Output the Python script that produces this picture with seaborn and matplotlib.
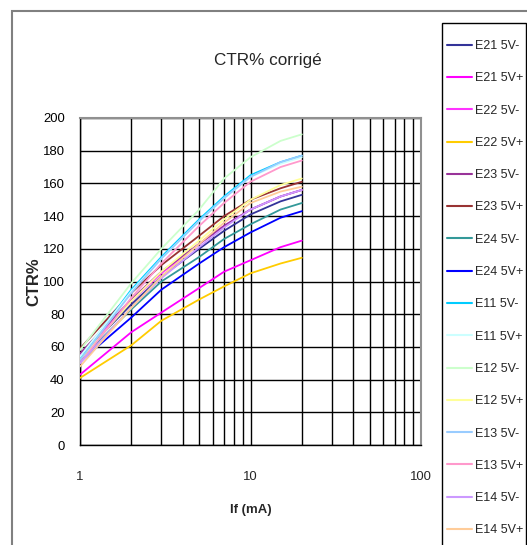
import pandas as pd
import matplotlib
matplotlib.use('Agg')
import matplotlib.pyplot as plt
import seaborn as sns
from matplotlib import font_manager
from matplotlib.lines import Line2D
from matplotlib.patches import Rectangle
from matplotlib.ticker import FixedLocator, NullFormatter

# ---- data ----
if_ma = [1, 2, 3, 5, 7, 10, 15, 20]
series_names = ['E21 5V-', 'E21 5V+', 'E22 5V-', 'E22 5V+', 'E23 5V-', 'E23 5V+',
                'E24 5V-', 'E24 5V+', 'E11 5V-', 'E11 5V+', 'E12 5V-', 'E12 5V+',
                'E13 5V-', 'E13 5V+', 'E14 5V-', 'E14 5V+']
e21_m = [54, 86, 103, 120, 131, 141, 149, 153]
e21_p = [43, 69, 81, 96, 106, 113, 121, 125]
e22_m = [55, 88, 105, 123, 134, 144, 152, 156]
e22_p = [41, 61, 76, 89, 97, 105, 111, 114.5]
e23_m = [56, 89, 106, 123, 134, 144, 152, 156]
e23_p = [59, 93, 110, 128, 140, 150, 157, 161]
e24_m = [52, 83, 100, 115, 126, 135, 144, 148]
e24_p = [51, 78, 95, 111, 121, 130, 139, 143]
e11_m = [53, 95, 115, 138, 152, 165, 173, 177]
e11_p = [54, 94, 114, 137, 151, 164, 172, 176]
e12_m = [58, 99, 120, 144, 163, 176, 186, 190]
e12_p = [52, 88, 106, 125, 138, 150, 159, 163]
e13_m = [52, 93, 114, 137, 151, 164, 173, 177]
e13_p = [50, 90, 111, 134, 148, 161, 170, 174]
e14_m = [50, 84, 102, 121, 133, 144, 152, 156]
e14_p = [48, 84, 103, 123, 136, 148, 155, 158]
ctr_values = [e21_m, e21_p, e22_m, e22_p, e23_m, e23_p, e24_m, e24_p,
              e11_m, e11_p, e12_m, e12_p, e13_m, e13_p, e14_m, e14_p]
series_colors = ['#333399', '#FF00FF', '#FF33FF', '#FFCC00', '#993399', '#993333',
                 '#339999', '#0000FF', '#00CCFF', '#CCFFFF', '#CCFFCC', '#FFFF99',
                 '#99CCFF', '#FF99CC', '#CC99FF', '#FFCC99']
y_ticks = list(range(0, 201, 20))

rows = []
for name, vals in zip(series_names, ctr_values):
    for x, v in zip(if_ma, vals):
        rows.append({'If': x, 'CTR': v, 'serie': name})
df = pd.DataFrame(rows)
palette = dict(zip(series_names, series_colors))

sns.set_style('white')
plt.rcParams['font.family'] = ['Liberation Sans', 'DejaVu Sans']

# Excel squeezed its text; use Liberation Sans Narrow if present, else a smaller Liberation Sans
names = {f.name for f in font_manager.fontManager.ttflist}
if 'Liberation Sans Narrow' in names:
    small_family, scale = 'Liberation Sans Narrow', 1.0
else:
    small_family, scale = 'Liberation Sans', 0.82
tick_size = 11.5 * scale
legend_size = 11 * scale

fig = plt.figure(figsize=(5.27, 5.45), dpi=100)
ax = fig.add_axes([80 / 527, 1 - 445 / 545, 341 / 527, 327 / 545])

sns.lineplot(data=df, x='If', y='CTR', hue='serie', hue_order=series_names,
             palette=palette, linewidth=1.3, legend=False, ax=ax, zorder=3)

ax.set_xscale('log')
ax.set_xlim(1, 100)
ax.set_ylim(0, 200)
ax.set_yticks(y_ticks)
ax.set_xticks([1, 10, 100])
ax.set_xticklabels(['1', '10', '100'])
ax.xaxis.set_minor_locator(FixedLocator([m * d for d in (1, 10) for m in range(2, 10)]))
ax.xaxis.set_minor_formatter(NullFormatter())
ax.grid(True, which='major', color='black', linewidth=1.0)
ax.grid(True, which='minor', axis='x', color='black', linewidth=1.0)
ax.set_axisbelow(True)

for lab in ax.get_xticklabels() + ax.get_yticklabels():
    lab.set_fontfamily(small_family)
    lab.set_fontsize(tick_size)
ax.tick_params(axis='y', direction='inout', length=12, width=1, pad=5, colors='black')
ax.tick_params(axis='x', which='major', direction='inout', length=6, width=1, pad=16)
ax.tick_params(axis='x', which='minor', length=0)

for side in ('left', 'bottom'):
    ax.spines[side].set_color('black')
    ax.spines[side].set_linewidth(1.0)
for side in ('top', 'right'):
    ax.spines[side].set_color('#909090')
    ax.spines[side].set_linewidth(1.5)

ax.set_xlabel('If (mA)', fontfamily=small_family, fontsize=11.5 * scale, fontweight='bold')
ax.xaxis.set_label_coords(0.5, -0.2)
ax.xaxis.label.set_va('center')
ax.set_ylabel('CTR%', fontsize=12, fontweight='bold')
ax.yaxis.set_label_coords(-0.135, 0.498)
ax.yaxis.label.set_va('center')

fig.text(268 / 527, 1 - 60 / 545, 'CTR% corrigé', fontsize=12.3,
         ha='center', va='center')

# outer chart border (cut off at right and bottom like the reference)
fig.patches.append(Rectangle((12 / 527, -0.2), 2, 1.2 - 11 / 545, transform=fig.transFigure,
                             fill=False, edgecolor='#808080', linewidth=1.5))
# legend box, also running past the bottom edge
fig.patches.append(Rectangle((442 / 527, -0.2), 84 / 527, 1.2 - 23 / 545,
                             transform=fig.transFigure, fill=False, edgecolor='black',
                             linewidth=1.0, zorder=5))

handles = [Line2D([0], [0], color=c, lw=1.5) for c in series_colors]
leg = fig.legend(handles, series_names, loc='upper left',
                 bbox_to_anchor=(447 / 527, 1 - 40 / 545), frameon=False,
                 borderpad=0, labelspacing=1.62, handlelength=2.0, handletextpad=0.25,
                 borderaxespad=0, prop={'family': small_family, 'size': legend_size})

fig.savefig('out.png', dpi=100)
